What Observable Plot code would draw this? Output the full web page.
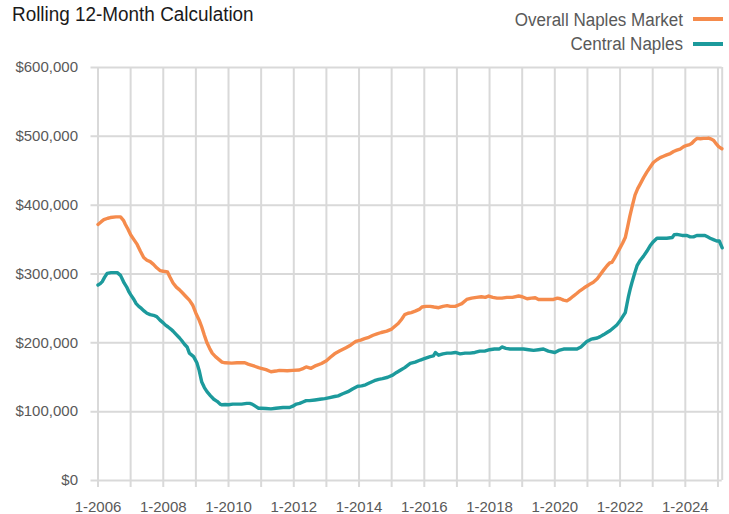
<!DOCTYPE html>
<html>
<head>
<meta charset="utf-8">
<script src="https://cdn.jsdelivr.net/npm/d3@7"></script>
<script src="https://cdn.jsdelivr.net/npm/@observablehq/plot@0.6"></script>
<style>
  html, body { margin: 0; padding: 0; background: #fff; }
  #wrap { position: relative; width: 729px; height: 514px; overflow: hidden; font-family: "Liberation Sans", Arial, sans-serif; }
  #title { position: absolute; left: 12px; top: 4px; font-size: 20px; line-height: 20px; color: #1a1a1a; white-space: nowrap; transform: scaleX(0.945); transform-origin: left top; }
  .leg { position: absolute; right: 46px; font-size: 18px; line-height: 18px; color: #595959; white-space: nowrap; transform: scaleX(0.945); transform-origin: right top; }
  .sw { position: absolute; left: 693px; width: 30px; height: 4px; }
  #chart { position: absolute; left: 0; top: 0; }
</style>
</head>
<body>
<div id="wrap">
  <div id="chart"></div>
  <div id="title">Rolling 12-Month Calculation</div>
  <div class="leg" id="leg1" style="top:11px">Overall Naples Market</div>
  <div class="sw" style="top:17px;background:#F58B4C"></div>
  <div class="leg" id="leg2" style="top:35px">Central Naples</div>
  <div class="sw" style="top:42px;background:#1C9A9C"></div>
</div>
<script>
const seriesNames = ["Overall Naples Market", "Central Naples"];
const seriesColors = ["#F58B4C", "#1C9A9C"];
const yTicks = [0, 100000, 200000, 300000, 400000, 500000, 600000];
const xLabelYears = [2006, 2008, 2010, 2012, 2014, 2016, 2018, 2020, 2022, 2024];
const gridYears = [2006,2007,2008,2009,2010,2011,2012,2013,2014,2015,2016,2017,2018,2019,2020,2021,2022,2023,2024,2025];

// Overall Naples Market (decimal year, value in $)
const overallDates = [2006.0,2006.1,2006.18,2006.3,2006.38,2006.55,2006.69,2006.78,2006.84,2006.92,2007.0,2007.1,2007.2,2007.3,2007.4,2007.5,2007.6,2007.7,2007.8,2007.9,2008.0,2008.13,2008.2,2008.3,2008.4,2008.5,2008.6,2008.7,2008.8,2008.9,2009.0,2009.1,2009.18,2009.26,2009.34,2009.42,2009.5,2009.6,2009.7,2009.8,2009.9,2010.1,2010.26,2010.4,2010.5,2010.6,2010.67,2010.8,2010.92,2011.0,2011.15,2011.3,2011.45,2011.56,2011.8,2011.97,2012.17,2012.3,2012.38,2012.53,2012.68,2012.85,2013.0,2013.12,2013.25,2013.4,2013.6,2013.75,2013.9,2014.05,2014.17,2014.3,2014.43,2014.55,2014.68,2014.85,2015.0,2015.1,2015.2,2015.3,2015.4,2015.5,2015.6,2015.72,2015.86,2015.93,2016.05,2016.18,2016.3,2016.44,2016.57,2016.7,2016.8,2016.95,2017.05,2017.15,2017.3,2017.45,2017.6,2017.75,2017.87,2017.97,2018.1,2018.23,2018.38,2018.53,2018.7,2018.89,2019.0,2019.15,2019.28,2019.4,2019.5,2019.65,2019.8,2019.96,2020.08,2020.17,2020.27,2020.37,2020.47,2020.57,2020.68,2020.78,2020.9,2021.0,2021.1,2021.18,2021.3,2021.39,2021.5,2021.6,2021.68,2021.75,2021.83,2021.9,2022.0,2022.08,2022.16,2022.23,2022.3,2022.38,2022.46,2022.54,2022.62,2022.72,2022.82,2022.92,2023.02,2023.13,2023.23,2023.33,2023.43,2023.54,2023.64,2023.74,2023.84,2023.95,2024.05,2024.13,2024.2,2024.28,2024.36,2024.46,2024.56,2024.65,2024.71,2024.8,2024.87,2024.95,2025.02,2025.12];
const overallValues = [372000,376000,379000,381000,382000,383000,383000,378000,372000,365000,357000,350000,343000,333000,324000,320000,318000,314000,309000,305000,304000,303000,296000,287000,281000,277000,272000,267000,262000,255000,243000,233000,223000,211000,200000,192000,185000,180000,176000,172000,171000,170500,171000,171000,171000,169000,168000,166000,164000,163000,161000,158000,159000,160000,159500,160000,160500,163000,165000,163000,167000,170000,174000,179000,184000,188000,193000,197000,202000,204000,206000,208000,211000,213000,215000,217000,220000,224000,228000,234000,241000,243000,244000,246000,249000,252000,253000,253000,252000,251000,253000,254000,253000,253000,255000,257000,263000,265000,266000,267000,266000,268000,266000,265000,265000,266000,266000,268000,267000,264000,265000,265500,263000,263000,263000,263000,265000,264000,262000,261000,264000,268000,272000,276000,280000,283000,286000,288000,293000,299000,306000,312000,316000,317000,323000,329000,338000,345000,353000,368000,384000,400000,415000,424000,431000,440000,448000,455000,462000,466000,469000,471000,473000,475000,478000,480000,481500,485000,487000,488000,490000,494000,497000,496500,497000,497000,497500,496000,494000,489000,485000,482000];

// Central Naples (decimal year, value in $)
const centralDates = [2006.0,2006.07,2006.13,2006.2,2006.28,2006.4,2006.5,2006.59,2006.69,2006.75,2006.8,2006.88,2006.95,2007.0,2007.1,2007.17,2007.25,2007.33,2007.42,2007.5,2007.6,2007.7,2007.8,2007.9,2008.0,2008.06,2008.15,2008.23,2008.3,2008.4,2008.5,2008.57,2008.65,2008.73,2008.8,2008.93,2009.03,2009.1,2009.18,2009.26,2009.34,2009.45,2009.55,2009.65,2009.74,2009.8,2009.9,2010.0,2010.13,2010.26,2010.4,2010.56,2010.65,2010.72,2010.82,2010.92,2011.0,2011.15,2011.3,2011.45,2011.67,2011.87,2011.97,2012.08,2012.18,2012.28,2012.38,2012.48,2012.65,2012.8,2012.95,2013.1,2013.25,2013.36,2013.5,2013.66,2013.8,2013.96,2014.08,2014.2,2014.33,2014.47,2014.6,2014.72,2014.88,2015.03,2015.15,2015.29,2015.4,2015.57,2015.72,2015.88,2016.0,2016.18,2016.28,2016.34,2016.44,2016.57,2016.7,2016.82,2016.95,2017.1,2017.25,2017.4,2017.55,2017.7,2017.85,2018.0,2018.15,2018.3,2018.38,2018.5,2018.63,2018.8,2019.04,2019.2,2019.35,2019.5,2019.65,2019.8,2020.0,2020.12,2020.27,2020.47,2020.68,2020.8,2020.98,2021.1,2021.18,2021.3,2021.39,2021.5,2021.6,2021.7,2021.8,2021.9,2022.0,2022.08,2022.16,2022.21,2022.26,2022.31,2022.36,2022.44,2022.52,2022.62,2022.72,2022.82,2022.92,2023.02,2023.13,2023.3,2023.43,2023.6,2023.66,2023.74,2023.9,2024.05,2024.15,2024.25,2024.35,2024.45,2024.6,2024.68,2024.76,2024.86,2024.96,2025.04,2025.13];
const centralValues = [284000,286000,289000,295000,301000,302000,302000,302000,298000,292000,287000,281000,274000,270000,263000,257000,253000,250000,246000,243000,241000,240000,238000,233000,229000,226000,223000,220000,217000,212000,207000,203000,198000,194000,185000,180000,171000,160000,143000,135000,129000,123000,118000,115000,111000,110000,110500,110000,111000,111000,111000,112000,112000,111000,108000,105000,105000,104500,104000,105000,106000,106000,108000,111000,112000,114000,116000,116000,117000,118000,119000,120500,122000,123000,126000,129000,133000,137000,137500,139000,142000,145000,147000,148000,150000,153000,157000,161000,164000,170000,172000,175000,177000,180000,181000,186000,182000,184000,185000,185000,186000,184000,185000,185000,186000,188000,188000,190000,191000,191000,194000,192000,191000,191000,191000,190000,189000,190000,191000,188000,186000,189000,191000,191000,191000,194000,202000,205000,206000,207000,209000,212000,215000,218000,222000,226000,232000,238000,244000,256000,268000,278000,287000,300000,312000,320000,326000,333000,341000,347000,352000,352000,352000,353000,357000,357500,356000,356000,354000,354000,356000,356000,356000,354000,352000,350000,348000,348000,338000];

const overall = overallDates.map((d, i) => ({date: d, value: overallValues[i], series: seriesNames[0]}));
const central = centralDates.map((d, i) => ({date: d, value: centralValues[i], series: seriesNames[1]}));

const fmt = d3.format(",");
const chart = Plot.plot({
  width: 729,
  height: 514,
  marginTop: 67,
  marginBottom: 34,
  marginLeft: 97.5,
  marginRight: 7.3,
  style: {fontFamily: "'Liberation Sans', Arial, sans-serif", fontSize: "15px", color: "#595959", background: "transparent"},
  x: {domain: [2006, 2025.13], label: null},
  y: {domain: [0, 600000], label: null},
  marks: [
    Plot.ruleY(yTicks, {stroke: "#d9d9d9", strokeWidth: 2, insetLeft: -7}),
    Plot.ruleX(gridYears, {stroke: "#d9d9d9", strokeWidth: 2, insetBottom: -7}),
    Plot.ruleX([2025.13], {stroke: "#d9d9d9", strokeWidth: 2}),
    Plot.line(overall, {x: "date", y: "value", stroke: seriesColors[0], strokeWidth: 3.4, strokeLinejoin: "round", strokeLinecap: "round"}),
    Plot.line(central, {x: "date", y: "value", stroke: seriesColors[1], strokeWidth: 3.4, strokeLinejoin: "round", strokeLinecap: "round"}),
    Plot.axisY({ticks: yTicks, tickFormat: d => "$" + fmt(d), tickSize: 0, tickPadding: 20, fill: "#595959", fontSize: 15, label: null}),
    Plot.axisX({ticks: xLabelYears, tickFormat: d => "1-" + d, tickSize: 0, tickPadding: 21, fill: "#595959", fontSize: 15, label: null})
  ]
});
document.getElementById("chart").appendChild(chart);
</script>
</body>
</html>
